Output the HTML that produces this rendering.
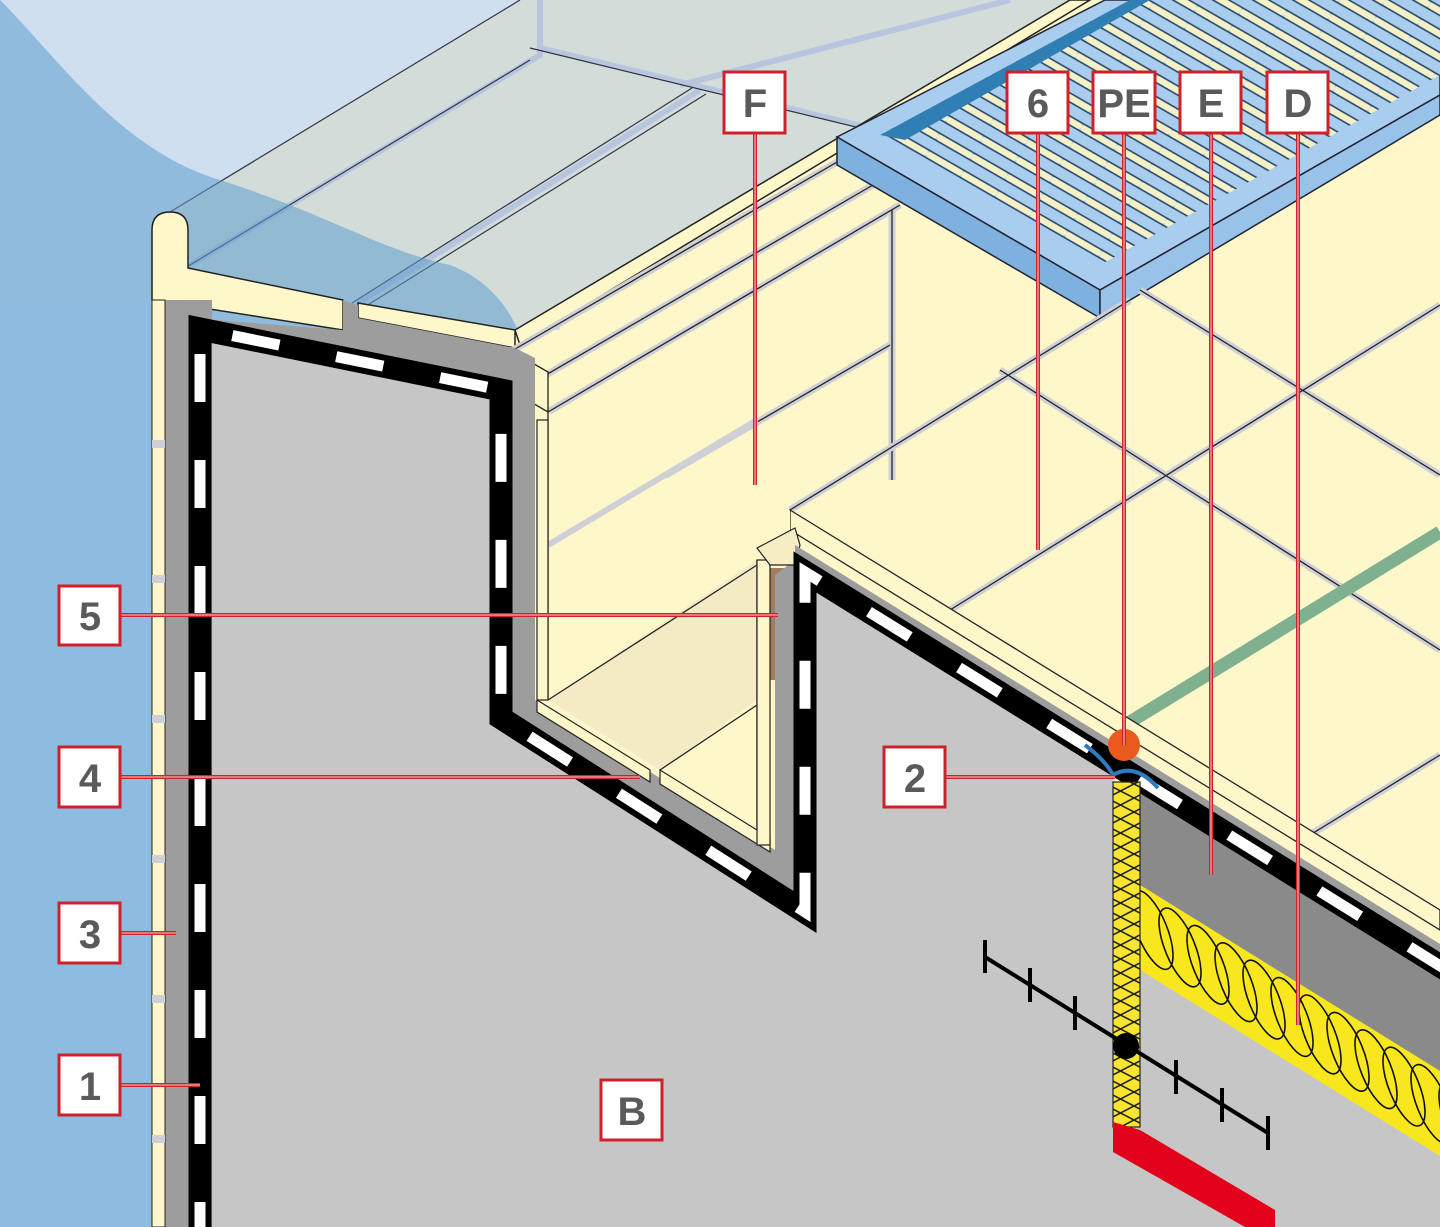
<!DOCTYPE html>
<html><head><meta charset="utf-8"><style>
html,body{margin:0;padding:0;background:#fff}
svg{display:block}
.lb{font-family:"Liberation Sans",sans-serif;font-weight:bold;font-size:40px;fill:#5a5a5a}
</style></head><body>
<svg width="1440" height="1227" viewBox="0 0 1440 1227" xmlns="http://www.w3.org/2000/svg">
<defs>
<pattern id="hatch" width="27" height="14" patternUnits="userSpaceOnUse">
<rect width="27" height="14" fill="#f7e531"/>
<path d="M0 0 L27 14 M0 14 L27 0" stroke="#222" stroke-width="1.6"/>
</pattern>
<pattern id="grate" width="40" height="20" patternUnits="userSpaceOnUse" patternTransform="rotate(30)">
<rect width="40" height="20" fill="#a9cdee"/>
<rect y="6" width="40" height="7" rx="3" fill="#f4f0c8"/>
<path d="M0 5.5 H40 M0 13.5 H40" stroke="#1f3f60" stroke-width="1.4"/>
</pattern>
<clipPath id="ins"><polygon points="1140,885 1440,1071 1440,1156 1140,970"/></clipPath>
</defs>

<rect width="1440" height="1227" fill="#fdf7c9"/>

<polygon points="0,0 600,0 560,330 152,330 0,330" fill="#cfdff0"/>
<polygon points="165,215 520,0 1070,0 515,330 185,268" fill="#d2ddd9"/>
<path d="M185,268 L540,55 L540,0 M358,303 L700,90 M540,48 L870,128 M680,85 L1010,0" stroke="#b7c6de" stroke-width="6" fill="none"/>
<path d="M165,215 L520,0 M185,268 L530,60 M352,303 L692,88 M366,306 L706,94 M530,48 L860,128" stroke="#334" stroke-width="1.2" fill="none"/>
<path d="M0,0 C60,60 120,150 220,180 C330,215 380,250 450,265 C490,280 510,310 520,335 L152,335 L152,1227 L0,1227 Z" fill="#5f9cce" opacity="0.55"/>
<rect x="0" y="300" width="152" height="927" fill="#8ebbe0"/>

<polygon points="515,330 1070,0 1090,0 520,345" fill="#fdf7c9" stroke="#222" stroke-width="1.5"/>
<path d="M152,300 L152,230 Q152,212 170,212 Q188,212 188,230 L188,268 L343,300 L343,330 L152,300 Z" fill="#fdf7c9" stroke="#222" stroke-width="1.5"/>
<path d="M358,303 L515,330 L515,348 L358,318 Z" fill="#fdf7c9" stroke="#222" stroke-width="1.5"/>

<path d="M510,352 L875,140 M520,390 L885,178 M548,412 L900,205 M540,548 L890,345 M892,210 L892,480" stroke="#cfcfd6" stroke-width="7" fill="none"/>
<path d="M510,352 L875,140 M520,390 L885,178 M548,412 L900,205 M540,548 L890,345 M892,210 L892,480" stroke="#222" stroke-width="1.3" fill="none"/>
<polygon points="510,350 548,372 548,412 510,390" fill="#fdf7c9" stroke="#222" stroke-width="1.3"/>

<polygon points="837,137 1105,0 1440,0 1440,95 1100,290" fill="#a9cdee" stroke="#223" stroke-width="1.5"/>
<polygon points="880,135 1130,0 1440,0 1440,75 1100,265" fill="url(#grate)"/>
<polygon points="880,135 1130,0 1150,0 905,140" fill="#2f7fb5"/>
<polygon points="837,137 1100,290 1100,318 837,165" fill="#7fb1de" stroke="#223" stroke-width="1.5"/>
<polygon points="1100,290 1440,95 1440,115 1100,318" fill="#98c2e8" stroke="#223" stroke-width="1.5"/>

<path d="M790,510 L1130,300 M950,610 L1440,305 M1310,835 L1440,755 M1140,290 L1440,475 M1000,370 L1440,650" stroke="#cfcfd6" stroke-width="7" fill="none"/>
<path d="M790,510 L1130,300 M950,610 L1440,305 M1310,835 L1440,755 M1140,290 L1440,475 M1000,370 L1440,650" stroke="#222" stroke-width="1.3" fill="none"/>
<path d="M1130,722 L1440,532" stroke="#7fb08f" stroke-width="13"/>
<path d="M790,510 L1440,910 L1440,930 L790,530 Z" fill="#fdf7c9" stroke="#222" stroke-width="1.3"/>

<polygon points="548,412 548,700 660,770 757,710 757,560 790,530 790,510 760,530" fill="#fdf7c9"/>
<polygon points="548,700 757,560 757,700 660,770" fill="#f4ebc4"/>
<path d="M548,545 L757,420" stroke="#cfcfd6" stroke-width="6"/>
<path d="M548,700 L757,565 M660,770 L757,705 M757,560 L757,840 M548,412 L548,700" stroke="#222" stroke-width="1.3" fill="none"/>
<rect x="770" y="568" width="22" height="112" fill="#a27c62"/>

<rect x="165" y="300" width="47" height="927" fill="#9d9d9d"/>
<polygon points="188,318 343,330 343,300 358,305 358,318 515,348 535,358 535,700 775,850 775,575 795,560 795,900 512,725 490,395 188,340" fill="#9d9d9d"/>
<polygon points="537,700 650,770 650,782 537,712" fill="#fdf7c9" stroke="#222" stroke-width="1.2"/>
<polygon points="660,770 770,838 770,852 660,784" fill="#fdf7c9" stroke="#222" stroke-width="1.2"/>
<rect x="537" y="420" width="11" height="280" fill="#fdf7c9" stroke="#222" stroke-width="1.2"/>
<rect x="757" y="560" width="13" height="285" fill="#fdf7c9" stroke="#222" stroke-width="1.2"/>
<polygon points="757,548 795,528 800,545 795,565 770,565" fill="#f6eec2" stroke="#222" stroke-width="1.2"/>

<polygon points="795,545 1440,944 1440,966 795,572" fill="#9d9d9d"/>

<polygon points="212,340 490,395 490,725 815,925 815,580 1113,766 1113,1227 212,1227" fill="#c6c6c6"/>
<polygon points="1140,790 1440,976 1440,1227 1140,1227" fill="#c6c6c6"/>
<rect x="1110" y="1120" width="34" height="107" fill="#c6c6c6"/>
<polygon points="1140,790 1440,976 1440,1071 1140,885" fill="#8a8a8a"/>
<polygon points="1140,885 1440,1071 1440,1156 1140,970" fill="#f8e71c"/>
<g clip-path="url(#ins)" fill="none" stroke="#111" stroke-width="1.6">
<g id="lp">
<ellipse cx="0" cy="0" rx="15" ry="42" transform="translate(1152,930) rotate(-22)"/>
</g>
<use href="#lp" transform="translate(28,17.4)"/><use href="#lp" transform="translate(56,34.8)"/><use href="#lp" transform="translate(84,52.2)"/><use href="#lp" transform="translate(112,69.6)"/><use href="#lp" transform="translate(140,87)"/><use href="#lp" transform="translate(168,104.4)"/><use href="#lp" transform="translate(196,121.8)"/><use href="#lp" transform="translate(224,139.2)"/><use href="#lp" transform="translate(252,156.6)"/><use href="#lp" transform="translate(280,174)"/><use href="#lp" transform="translate(308,191.4)"/>
</g>

<path d="M200,1240 L200,329 L501,390 L501,718 L805,912 L805,572 L1450,972" fill="none" stroke="#000" stroke-width="23" stroke-linejoin="miter"/>
<path d="M200,1240 L200,329 L501,390 L501,718 L805,912 L805,572 L1450,972" fill="none" stroke="#fff" stroke-width="11" stroke-dasharray="48 58" stroke-dashoffset="10"/>

<rect x="152" y="300" width="13" height="927" fill="#fdf7c9" stroke="#222" stroke-width="1"/>
<g fill="#cfcfd6"><rect x="152" y="440" width="13" height="8"/><rect x="152" y="575" width="13" height="8"/><rect x="152" y="715" width="13" height="8"/><rect x="152" y="855" width="13" height="8"/><rect x="152" y="995" width="13" height="8"/><rect x="152" y="1135" width="13" height="8"/></g>

<rect x="1113" y="782" width="27" height="345" fill="url(#hatch)" stroke="#222" stroke-width="1.2"/>
<polygon points="1113,1122 1140,1130 1275,1210 1275,1227 1245,1227 1113,1152" fill="#e3001b"/>
<path d="M1085,745 Q1105,760 1113,775 Q1135,762 1158,788" stroke="#2d7cc2" stroke-width="4" fill="none"/>
<circle cx="1124" cy="745" r="16" fill="#e85a1e"/>

<g stroke="#000" stroke-width="4" fill="none">
<path d="M985,957 L1268,1133"/>
<path d="M985,940 V973 M1030,968 V1002 M1075,996 V1030 M1176,1060 V1094 M1222,1088 V1122 M1268,1116 V1150"/>
</g>
<circle cx="1126" cy="1046" r="13" fill="#000"/>

<g stroke="#d0202a" stroke-width="4" fill="none">
<path d="M755,133 V485 M1038,133 V550 M1124,133 V745 M1211,133 V875 M1298,133 V1025"/>
<path d="M121,615 H778 M121,777 H640 M945,777 H1115 M121,933 H176 M121,1085 H200"/>
</g>
<g stroke="#fff" stroke-width="1" fill="none" opacity="0.8">
<path d="M755,133 V485 M1038,133 V550 M1124,133 V745 M1211,133 V875 M1298,133 V1025"/>
<path d="M121,615 H778 M121,777 H640 M945,777 H1115 M121,933 H176 M121,1085 H200"/>
</g>

<g fill="#fff" stroke="#d0202a" stroke-width="3">
<rect x="724" y="72" width="61" height="61"/>
<rect x="1007" y="72" width="61" height="61"/>
<rect x="1093" y="72" width="62" height="61"/>
<rect x="1180" y="72" width="61" height="61"/>
<rect x="1267" y="72" width="61" height="61"/>
<rect x="59" y="586" width="61" height="59"/>
<rect x="59" y="747" width="61" height="60"/>
<rect x="884" y="747" width="61" height="60"/>
<rect x="59" y="903" width="61" height="60"/>
<rect x="59" y="1055" width="61" height="60"/>
<rect x="601" y="1080" width="61" height="60"/>
</g>
<g class="lb" text-anchor="middle">
<text x="755" y="117">F</text>
<text x="1038" y="117">6</text>
<text x="1124" y="117">PE</text>
<text x="1211" y="117">E</text>
<text x="1298" y="117">D</text>
<text x="90" y="630">5</text>
<text x="90" y="792">4</text>
<text x="915" y="792">2</text>
<text x="90" y="948">3</text>
<text x="90" y="1100">1</text>
<text x="632" y="1125">B</text>
</g>
</svg>
</body></html>
